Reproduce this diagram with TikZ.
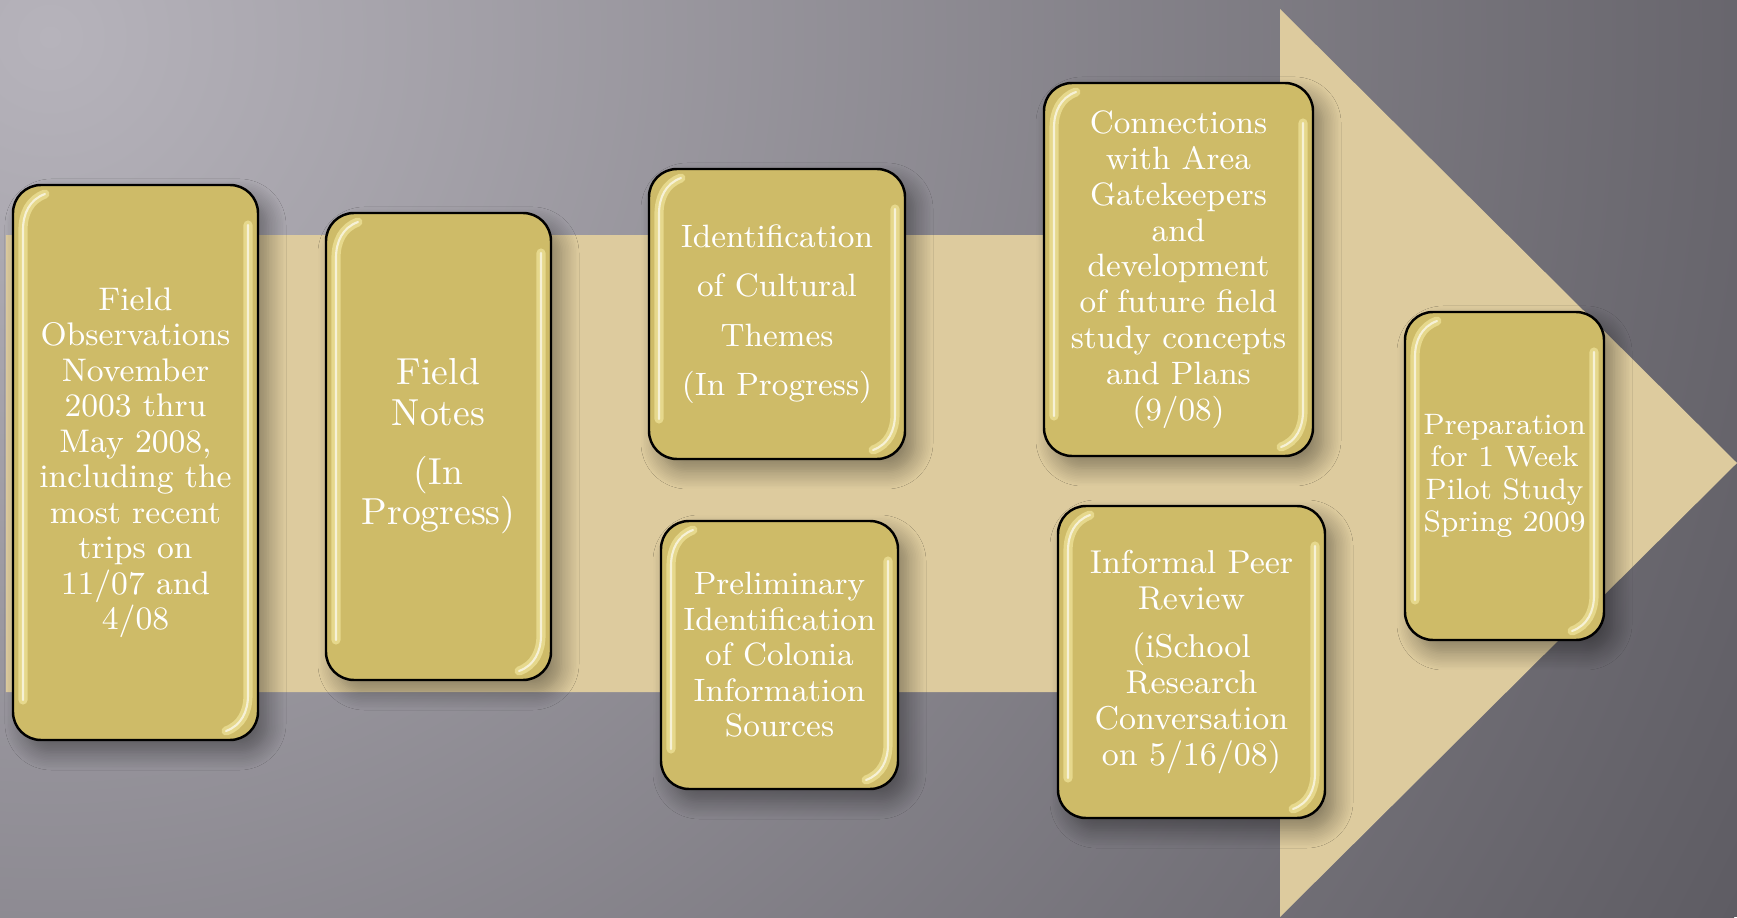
\documentclass[tikz,border=0pt]{standalone}
\usetikzlibrary{shadows.blur}

\definecolor{bglight}{RGB}{182,179,187}
\definecolor{bgdark}{RGB}{94,92,99}
\definecolor{arrowtan}{RGB}{221,203,158}
\definecolor{boxgold}{RGB}{206,187,104}
\definecolor{glosscol}{RGB}{250,240,170}

% glossy rims inside a box
\newcommand\boxgloss{%
  \foreach \hlw/\hlc/\hlo in {2.6pt/glosscol/0.55, 0.6pt/white/0.65}{%
    \draw[sharp corners, line width=\hlw, draw=\hlc, opacity=\hlo, line cap=round]
      ([xshift=0.32cm,yshift=-0.09cm]path picture bounding box.north west)
      to[out=200,in=90] ([xshift=0.1cm,yshift=-0.45cm]path picture bounding box.north west)
      -- ([xshift=0.1cm,yshift=0.4cm]path picture bounding box.south west);
    \draw[sharp corners, line width=\hlw, draw=\hlc, opacity=\hlo, line cap=round]
      ([xshift=-0.1cm,yshift=-0.4cm]path picture bounding box.north east)
      -- ([xshift=-0.1cm,yshift=0.45cm]path picture bounding box.south east)
      to[out=-90,in=20] ([xshift=-0.32cm,yshift=0.09cm]path picture bounding box.south east);
  }%
}

\begin{document}
\begin{tikzpicture}[
  stagebox/.style={draw=black, line width=0.7pt, fill=boxgold, rounded corners=0.28cm,
    text=white, align=center, inner sep=0pt,
    blur shadow={shadow xshift=0.1cm, shadow yshift=-0.12cm, shadow blur radius=0.18cm,
      shadow blur steps=12, shadow opacity=40},
    path picture={\boxgloss}}
]
\useasboundingbox (0,0) rectangle (17.37,9.17);

% background
\begin{scope}
  \clip (0,0) rectangle (17.37,9.17);
  \fill[bgdark] (0,0) rectangle (17.37,9.17);
  \shade[inner color=bglight, outer color=bgdark] (0.5,8.8) circle (19);
\end{scope}

% big arrow
\fill[arrowtan] (0.06,2.25) -- (12.80,2.25) -- (12.80,0) -- (17.37,4.54)
  -- (12.80,9.08) -- (12.80,6.82) -- (0.06,6.82) -- cycle;

\node[stagebox, minimum width=2.45cm, minimum height=5.55cm, font=\fontsize{9.3}{10.1}\selectfont]
  (observe) at (1.355,4.545) {Field\\Observations\\November\\2003 thru\\May 2008,\\including the\\most recent\\trips on\\11/07 and\\4/08};
\node[stagebox, minimum width=2.25cm, minimum height=4.67cm, font=\fontsize{10.7}{11.6}\selectfont]
  (notes) at (4.385,4.705) {Field\\Notes\\[5pt](In\\Progress)};
\node[stagebox, minimum width=2.56cm, minimum height=2.90cm, font=\fontsize{9.2}{14.1}\selectfont]
  (themes) at (7.77,6.03) {Identification\\of Cultural\\Themes\\(In Progress)};
\node[stagebox, minimum width=2.37cm, minimum height=2.68cm, font=\fontsize{9.2}{10.1}\selectfont]
  (sources) at (7.795,2.62) {Preliminary\\Identification\\of Colonia\\Information\\Sources};
\node[stagebox, minimum width=2.69cm, minimum height=3.73cm, font=\fontsize{9.2}{10.2}\selectfont]
  (contacts) at (11.785,6.475) {Connections\\with Area\\Gatekeepers\\and\\development\\of future field\\study concepts\\and Plans\\(9/08)};
\node[stagebox, minimum width=2.67cm, minimum height=3.12cm, font=\fontsize{9.4}{10.2}\selectfont]
  (review) at (11.915,2.55) {Informal Peer\\Review\\[3.5pt](iSchool\\Research\\Conversation\\on 5/16/08)};
\node[stagebox, minimum width=1.99cm, minimum height=3.28cm, font=\fontsize{8.4}{9.2}\selectfont]
  (pilot) at (15.045,4.41) {Preparation\\for 1 Week\\Pilot Study\\Spring 2009};

\end{tikzpicture}
\end{document}
